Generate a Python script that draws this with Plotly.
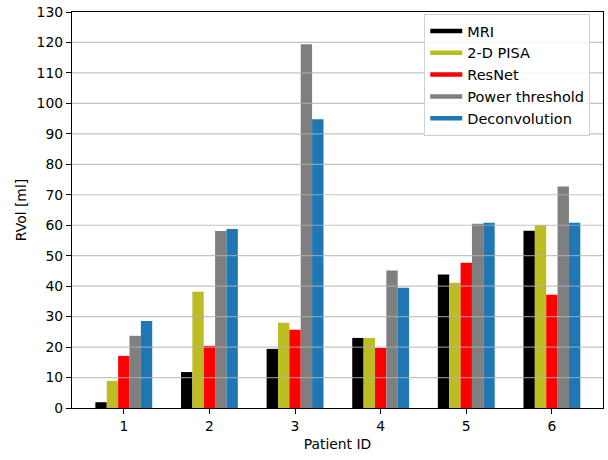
import plotly.graph_objects as go

patients = [1, 2, 3, 4, 5, 6]
series_names = ["MRI", "2-D PISA", "ResNet", "Power threshold", "Deconvolution"]
mri = [1.9, 11.8, 19.4, 23.0, 43.8, 58.2]
pisa = [8.9, 38.2, 28.0, 23.0, 41.1, 60.0]
resnet = [17.1, 20.4, 25.7, 19.7, 47.7, 37.2]
power = [23.7, 58.1, 119.4, 45.1, 60.5, 72.7]
deconv = [28.6, 58.8, 94.8, 39.5, 60.8, 60.8]
colors = ["#000000", "#bcbd22", "#ff0000", "#7f7f7f", "#1f77b4"]
y_ticks = list(range(0, 131, 10))

font = dict(family="DejaVu Sans", size=13.9, color="#000000")
legend_font = dict(family="DejaVu Sans", size=14.5, color="#000000")

fig = go.Figure()
for name, vals, col in zip(series_names, [mri, pisa, resnet, power, deconv], colors):
    fig.add_trace(go.Bar(x=patients, y=vals, name=name, marker=dict(color=col, line=dict(width=0)),
                         showlegend=False))
for name, col in zip(series_names, colors):
    fig.add_trace(go.Scatter(x=[None], y=[None], mode="lines", name=name,
                             line=dict(color=col, width=4.5), showlegend=True))

for t in y_ticks[1:-1]:
    fig.add_shape(type="line", xref="paper", x0=0, x1=1, yref="y", y0=t, y1=t,
                  line=dict(color="rgba(176,176,176,0.75)", width=1.2), layer="above")

fig.update_layout(
    width=608, height=460,
    margin=dict(l=72, r=5, t=12, b=52),
    paper_bgcolor="white", plot_bgcolor="white",
    barmode="group", bargap=0.336, bargroupgap=0,
    font=font,
    legend=dict(x=0.976, xanchor="right", y=0.995, yanchor="top",
                bgcolor="rgba(255,255,255,0.85)", bordercolor="#d0d0d0", borderwidth=1,
                font=legend_font, itemwidth=32),
    xaxis=dict(range=[0.395, 6.597], tickmode="array", tickvals=patients,
               ticktext=[str(p) for p in patients], automargin=False,
               showgrid=False, zeroline=False, showline=True, mirror=True,
               linecolor="black", linewidth=1.2, ticks="outside", ticklen=5, tickwidth=1.2,
               tickcolor="black",
               title=dict(text="Patient ID", font=font, standoff=6)),
    yaxis=dict(range=[0, 130], tickmode="array", tickvals=y_ticks, automargin=False,
               showgrid=False, zeroline=False, showline=True, mirror=True,
               linecolor="black", linewidth=1.2, ticks="outside", ticklen=5, tickwidth=1.2,
               tickcolor="black", ticklabeloverflow="allow",
               title=dict(text="RVol [ml]", font=font, standoff=6)),
)

fig.write_html("out.html", config={"displayModeBar": False},
               post_script="document.body.style.margin='0';")
